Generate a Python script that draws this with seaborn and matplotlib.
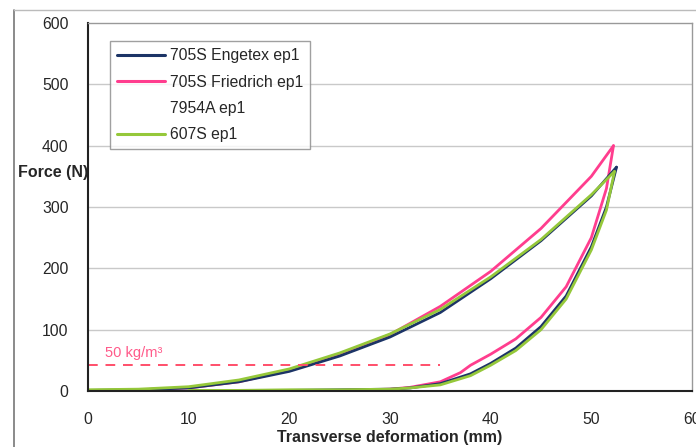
import numpy as np
import pandas as pd
import matplotlib
matplotlib.use("Agg")
import matplotlib.pyplot as plt
import seaborn as sns
from matplotlib.ticker import MultipleLocator

# ---- data ----
eng_load_x = [0, 5, 10, 15, 20, 25, 30, 35, 40, 45, 50, 52.5]
eng_load_y = [1, 2, 5, 15, 32, 57, 88, 128, 183, 245, 318, 365]
eng_unl_x = [52.5, 51.5, 50, 47.5, 45, 42.5, 40, 38, 35, 32, 30, 25, 20, 15, 12]
eng_unl_y = [365, 300, 235, 155, 105, 70, 45, 28, 12, 5, 3, 2, 1, 1, 0]

fri_load_x = [0, 5, 10, 15, 20, 25, 30, 35, 40, 45, 50, 52.2]
fri_load_y = [0, 2, 5, 15, 34, 60, 92, 138, 195, 265, 350, 400]
fri_unl_x = [52.2, 51.5, 50, 47.5, 45, 42.5, 40, 38, 37, 35, 32, 30, 25, 20, 15, 12]
fri_unl_y = [400, 330, 250, 170, 120, 85, 60, 42, 30, 15, 6, 3, 1, 0, 0, 0]

grn_load_x = [0, 5, 10, 15, 20, 25, 30, 35, 40, 45, 50, 52.3]
grn_load_y = [2, 3, 7, 18, 36, 62, 93, 133, 186, 247, 320, 358]
grn_unl_x = [52.3, 51.5, 50, 47.5, 45, 42.5, 40, 38, 35, 32, 30, 25, 20, 15, 10]
grn_unl_y = [358, 295, 230, 150, 100, 66, 42, 25, 10, 5, 3, 2, 2, 1, 1]

series_names = ["705S Engetex ep1", "705S Friedrich ep1", "7954A ep1", "607S ep1"]
series_colors = ["#1c3466", "#ff3d8e", "#ffffff", "#95c83a"]

ref_level = 42
ref_x = [0, 35]
ref_label = "50 kg/m³"

x_ticks = [0, 10, 20, 30, 40, 50, 60]
y_ticks = [0, 100, 200, 300, 400, 500, 600]

# ---- build table ----
rows = []
def add(name, xs, ys, branch):
    for i, (a, b) in enumerate(zip(xs, ys)):
        rows.append(dict(series=name, x=a, y=b, branch=branch, order=i))

add(series_names[0], eng_load_x, eng_load_y, "load")
add(series_names[0], eng_unl_x, eng_unl_y, "unload")
add(series_names[1], fri_load_x, fri_load_y, "load")
add(series_names[1], fri_unl_x, fri_unl_y, "unload")
add(series_names[3], grn_load_x, grn_load_y, "load")
add(series_names[3], grn_unl_x, grn_unl_y, "unload")
df = pd.DataFrame(rows)

sns.set_style("white")
plt.rcParams['font.family'] = ['Liberation Sans', 'DejaVu Sans']

fig = plt.figure(figsize=(6.96, 4.47), dpi=100)
ax = fig.add_axes([88/696, 1 - 391/447, (692-88)/696, (391-23)/447])

# outer scan frame
fig.add_artist(plt.Line2D([14/696, 14/696], [0, 1 - 10/447], color="#777777", lw=1.2, transform=fig.transFigure))
fig.add_artist(plt.Line2D([14/696, 1], [1 - 10/447, 1 - 10/447], color="#bbbbbb", lw=1.0, transform=fig.transFigure))

for y in y_ticks[1:-1]:
    ax.axhline(y, color="#c9c9c9", lw=1.0, zorder=0)

palette = dict(zip(series_names, series_colors))
draw_order = [series_names[1], series_names[0], series_names[3]]
for name in draw_order:
    for br in ["load", "unload"]:
        sub = df[(df.series == name) & (df.branch == br)]
        sns.lineplot(data=sub, x="x", y="y", sort=False, color=palette[name],
                     lw=2.0, ax=ax, estimator=None, legend=False)

ax.plot(ref_x, [ref_level, ref_level], color="#ff4f6a", lw=1.4, ls=(0, (5, 4)))
ax.text(1.7, ref_level + 14, ref_label, color="#ff5a8a", fontsize=10.5)

# legend
handles = [plt.Line2D([], [], color=c, lw=2.2) for c in series_colors]
leg = ax.legend(handles, series_names, loc="upper left", bbox_to_anchor=(0.036, 0.95),
                borderaxespad=0, frameon=True, fancybox=False, edgecolor="#888888", fontsize=11.3,
                handlelength=3.1, handletextpad=0.3, labelspacing=0.72, borderpad=0.45)
leg.get_frame().set_linewidth(1.0)

ax.set_xlim(0, 60)
ax.set_ylim(0, 600)
ax.set_xticks(x_ticks)
ax.set_yticks(y_ticks)
ax.xaxis.set_minor_locator(MultipleLocator(2))
ax.yaxis.set_minor_locator(MultipleLocator(20))
ax.tick_params(axis="both", which="major", direction="out", length=3, labelsize=11.3, width=0.8, color="#555555")
ax.tick_params(axis="both", which="minor", direction="out", length=2, width=0.6, color="#777777")
ax.tick_params(axis="x", pad=12)
ax.tick_params(axis="y", pad=11)

for s in ["left", "bottom"]:
    ax.spines[s].set_color("#222222")
    ax.spines[s].set_linewidth(1.5)
for s in ["top", "right"]:
    ax.spines[s].set_color("#999999")
    ax.spines[s].set_linewidth(1.0)

ax.set_xlabel("Transverse deformation (mm)", fontsize=11.5, fontweight="bold", labelpad=2)
ax.set_ylabel("")
fig.text(18/696, 1 - 172/447, "Force (N)", fontsize=11.5, fontweight="bold", va="center", ha="left")

fig.savefig("out.png", dpi=100)
